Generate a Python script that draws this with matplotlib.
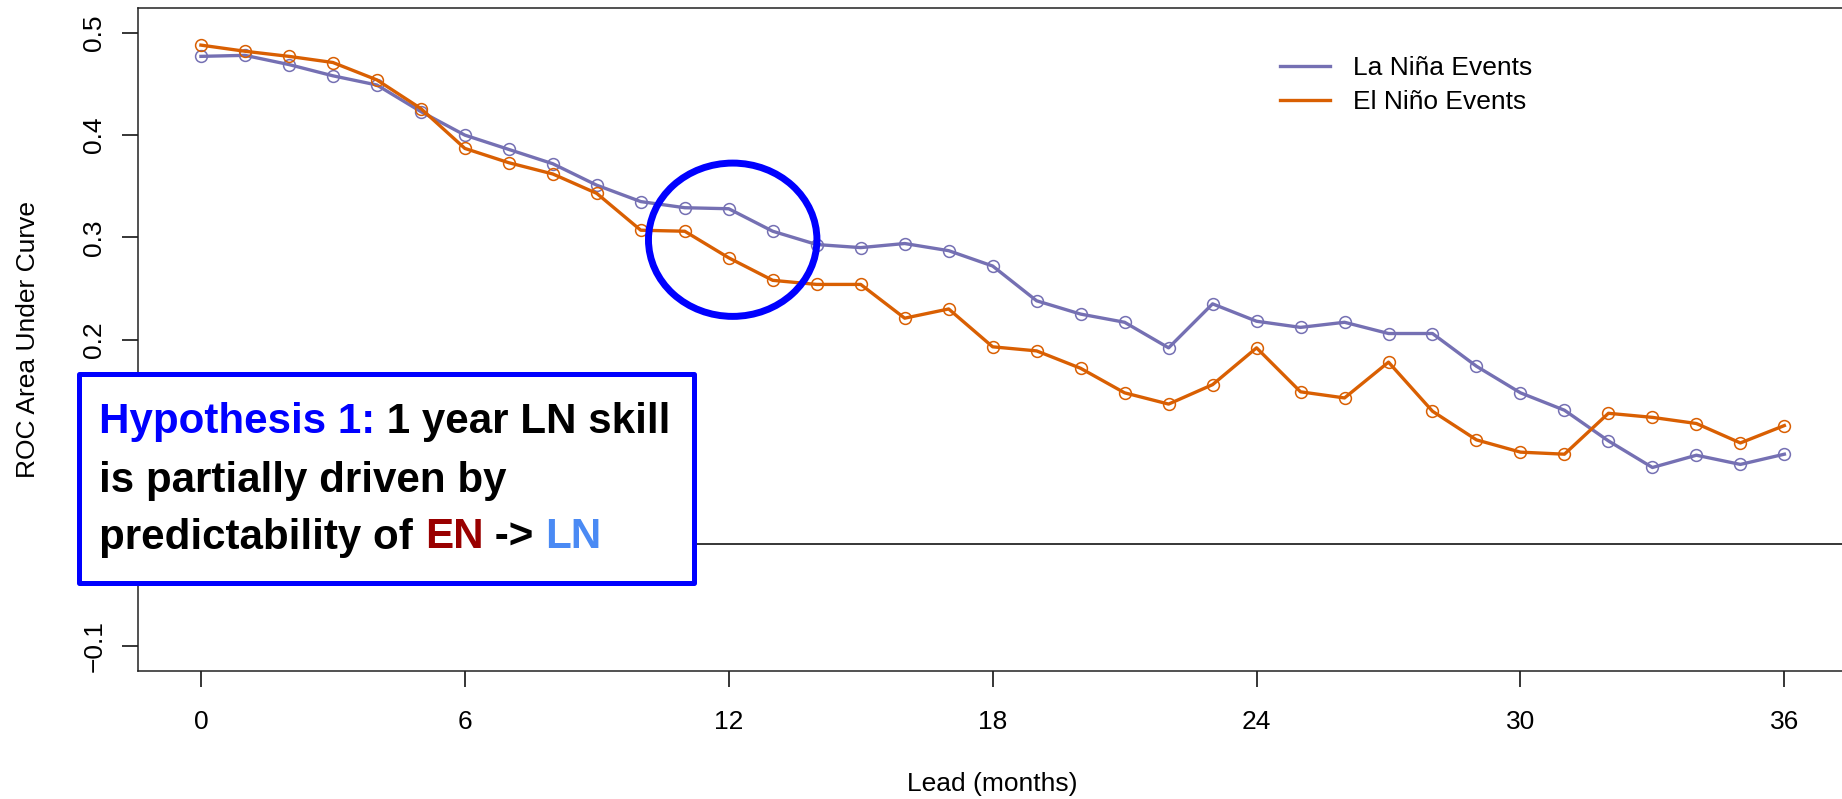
import numpy as np
import matplotlib
matplotlib.use("Agg")
import matplotlib.pyplot as plt
from matplotlib.patches import Rectangle, Ellipse
from matplotlib.lines import Line2D
from matplotlib.text import Annotation

plt.rcParams['font.family'] = ['Liberation Sans', 'DejaVu Sans']

# data
lead = np.arange(0, 37)
la_nina = [0.477, 0.478, 0.469, 0.458, 0.449, 0.423, 0.400, 0.386, 0.372, 0.351,
           0.335, 0.329, 0.328, 0.306, 0.293, 0.290, 0.294, 0.287, 0.272, 0.238,
           0.225, 0.217, 0.192, 0.235, 0.218, 0.212, 0.217, 0.206, 0.206, 0.174,
           0.148, 0.131, 0.101, 0.075, 0.087, 0.078, 0.088]
el_nino = [0.488, 0.482, 0.477, 0.471, 0.454, 0.426, 0.387, 0.373, 0.362, 0.343,
           0.307, 0.306, 0.280, 0.258, 0.254, 0.254, 0.221, 0.230, 0.193, 0.189,
           0.172, 0.148, 0.137, 0.156, 0.192, 0.149, 0.143, 0.178, 0.130, 0.102,
           0.090, 0.088, 0.128, 0.124, 0.118, 0.099, 0.116]
series_names = ["La Niña Events", "El Niño Events"]
series_colors = ["#7570B3", "#D95F02"]
xticks = [0, 6, 12, 18, 24, 30, 36]
yticks = [-0.1, 0.0, 0.1, 0.2, 0.3, 0.4, 0.5]
# 0.0 and 0.1 sit under the hypothesis box, so they are left blank
ytick_labels = ["\u22120.1", "", "", "0.2", "0.3", "0.4", "0.5"]

W, H = 1842, 799
fig = plt.figure(figsize=(W / 100, H / 100), dpi=100)
# axes box in pixels (right edge runs just past the figure, as in the original)
ax = fig.add_axes([137.6 / W, (H - 671) / H, (1847.7 - 137.6) / W, (671 - 8.3) / H])

fs = 19
for vals, col in zip([la_nina, el_nino], series_colors):
    ax.plot(lead, vals, color=col, lw=2.4, marker='o', ms=8.5, mfc='none',
            mec=col, mew=1.1, zorder=3)

ax.axhline(0, color='black', lw=1.1, zorder=1)

ax.set_xlim(-1.44, 37.44)
ax.set_ylim(-0.124, 0.524)
ax.set_xticks(xticks)
ax.set_xticklabels([str(t) for t in xticks])
ax.set_yticks(yticks)
ax.set_yticklabels(ytick_labels)
for lab in ax.get_yticklabels():
    lab.set_rotation(90)
    lab.set_va('center')
ax.tick_params(axis='x', length=11.5, width=1.1, labelsize=fs, pad=16.5)
ax.tick_params(axis='y', length=11.5, width=1.1, labelsize=fs, pad=11)
for sp in ax.spines.values():
    sp.set_linewidth(1.1)
    sp.set_color('#222222')

ax.set_xlabel("Lead (months)", fontsize=fs)
ax.xaxis.set_label_coords(0.5, -0.152)
ax.set_ylabel("ROC Area Under Curve", fontsize=fs)
ax.yaxis.set_label_coords(-0.0571, 0.5)

handles = [Line2D([], [], color=c, lw=2.4) for c in series_colors]
ax.legend(handles, series_names, loc='upper left', frameon=False, fontsize=fs,
          bbox_to_anchor=(1280 / W, 1 - 56 / H), bbox_transform=fig.transFigure,
          borderpad=0, borderaxespad=0, handlelength=1.9, handletextpad=0.86,
          labelspacing=0.39)

# circle highlighting the 1-year lead
ax.add_patch(Ellipse((12.09, 0.2977), 3.83, 0.1499, fill=False,
                     edgecolor='#0000FF', lw=5, zorder=5, clip_on=False))

# hypothesis box
fig.add_artist(Rectangle((79.3 / W, (H - 582.7) / H), 615 / W, 208.7 / H,
                         transform=fig.transFigure, facecolor='white',
                         edgecolor='#0000FF', lw=3.6, joinstyle='round'))

box_lines = [
    [("Hypothesis 1:", "#0000FF"), (" 1 year LN skill", "black")],
    [("is partially driven by", "black")],
    [("predictability of ", "black"), ("EN", "#990000"), (" -> ", "black"),
     ("LN", "#4A8AF4")],
]
baselines = [433.5, 491.5, 548.5]
box_fs = 30.3
for parts, yb in zip(box_lines, baselines):
    t = fig.text(99.3 / W, 1 - yb / H, parts[0][0], color=parts[0][1],
                 fontsize=box_fs, fontweight='bold', va='baseline', ha='left')
    for s, c in parts[1:]:
        t = fig.add_artist(Annotation(s, xy=(1, 0), xycoords=t, xytext=(0, 0),
                                      textcoords='offset points', va='bottom',
                                      ha='left', color=c, fontsize=box_fs,
                                      fontweight='bold'))

fig.savefig("out.png", dpi=100)
